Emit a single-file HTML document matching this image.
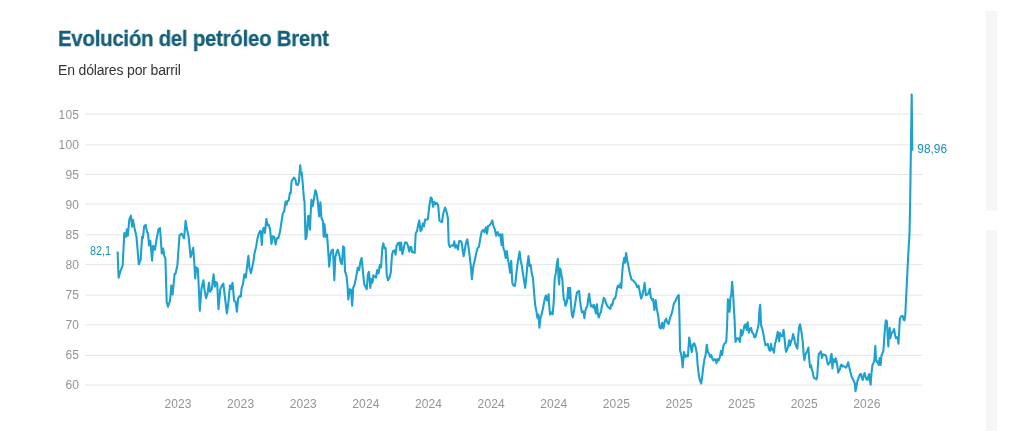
<!DOCTYPE html>
<html lang="es"><head><meta charset="utf-8"><title>Evolución del petróleo Brent</title>
<style>
html,body{margin:0;padding:0;background:#fff;}
body{width:1024px;height:431px;position:relative;overflow:hidden;font-family:"Liberation Sans",sans-serif;}
h1{position:absolute;left:57.5px;top:26.1px;margin:0;font-size:22px;line-height:26px;font-weight:bold;color:#15607a;white-space:nowrap;letter-spacing:-0.3px;transform-origin:0 0;transform:scaleX(0.93);-webkit-text-stroke:0.3px #15607a;}
p.sub{position:absolute;left:58.3px;top:61.2px;margin:0;font-size:14px;line-height:18px;color:#333;white-space:nowrap;letter-spacing:-0.16px;}
.strip{position:absolute;left:986.2px;width:10.4px;background:#f5f6f8;}
svg{position:absolute;left:0;top:0;will-change:transform;}
h1,p.sub{will-change:transform;}
.ax{font-family:"Liberation Sans",sans-serif;font-size:12px;fill:#949494;letter-spacing:0.12px;}
.val{font-family:"Liberation Sans",sans-serif;font-size:12px;fill:#1a8fb5;}
</style></head><body>
<h1>Evolución del petróleo Brent</h1>
<p class="sub">En dólares por barril</p>
<div class="strip" style="top:10.5px;height:200px"></div>
<div class="strip" style="top:230px;height:201px"></div>
<svg width="1024" height="431" viewBox="0 0 1024 431">
<g>
<line x1="85" x2="922.5" y1="114.00" y2="114.00" stroke="#e5e5e5" stroke-width="1"/>
<line x1="85" x2="922.5" y1="144.80" y2="144.80" stroke="#e5e5e5" stroke-width="1"/>
<line x1="85" x2="922.5" y1="174.50" y2="174.50" stroke="#e5e5e5" stroke-width="1"/>
<line x1="85" x2="922.5" y1="204.00" y2="204.00" stroke="#e5e5e5" stroke-width="1"/>
<line x1="85" x2="922.5" y1="234.80" y2="234.80" stroke="#e5e5e5" stroke-width="1"/>
<line x1="85" x2="922.5" y1="264.40" y2="264.40" stroke="#e5e5e5" stroke-width="1"/>
<line x1="85" x2="922.5" y1="295.20" y2="295.20" stroke="#e5e5e5" stroke-width="1"/>
<line x1="85" x2="922.5" y1="324.80" y2="324.80" stroke="#e5e5e5" stroke-width="1"/>
<line x1="85" x2="922.5" y1="355.30" y2="355.30" stroke="#e5e5e5" stroke-width="1"/>
<line x1="85" x2="922.5" y1="385.00" y2="385.00" stroke="#e5e5e5" stroke-width="1"/>
</g>
<text x="79" y="118.80" text-anchor="end" class="ax">105</text>
<text x="79" y="148.80" text-anchor="end" class="ax">100</text>
<text x="79" y="178.80" text-anchor="end" class="ax">95</text>
<text x="79" y="208.80" text-anchor="end" class="ax">90</text>
<text x="79" y="238.80" text-anchor="end" class="ax">85</text>
<text x="79" y="268.80" text-anchor="end" class="ax">80</text>
<text x="79" y="298.80" text-anchor="end" class="ax">75</text>
<text x="79" y="328.80" text-anchor="end" class="ax">70</text>
<text x="79" y="358.80" text-anchor="end" class="ax">65</text>
<text x="79" y="388.80" text-anchor="end" class="ax">60</text>

<text x="178.0" y="407.8" text-anchor="middle" class="ax">2023</text>
<text x="240.6" y="407.8" text-anchor="middle" class="ax">2023</text>
<text x="303.3" y="407.8" text-anchor="middle" class="ax">2023</text>
<text x="365.9" y="407.8" text-anchor="middle" class="ax">2024</text>
<text x="428.5" y="407.8" text-anchor="middle" class="ax">2024</text>
<text x="491.2" y="407.8" text-anchor="middle" class="ax">2024</text>
<text x="553.8" y="407.8" text-anchor="middle" class="ax">2024</text>
<text x="616.4" y="407.8" text-anchor="middle" class="ax">2025</text>
<text x="679.0" y="407.8" text-anchor="middle" class="ax">2025</text>
<text x="741.7" y="407.8" text-anchor="middle" class="ax">2025</text>
<text x="804.3" y="407.8" text-anchor="middle" class="ax">2025</text>
<text x="866.9" y="407.8" text-anchor="middle" class="ax">2026</text>

<path d="M117.6,251.5 L118.6,277.8 L120.2,272.0 L122.7,265.1 L124.3,233.1 L125.8,236.9 L126.8,229.3 L127.8,235.7 L129.4,219.1 L130.9,215.7 L132.2,226.7 L132.9,219.8 L134.5,228.0 L136.5,236.9 L138.8,264.3 L140.6,260.0 L142.1,236.9 L142.9,238.2 L144.2,226.0 L145.7,224.9 L147.0,231.8 L148.0,233.1 L149.0,245.4 L150.3,240.8 L152.1,260.7 L153.1,245.9 L154.9,249.7 L156.5,239.5 L158.5,229.3 L160.0,228.0 L161.8,253.6 L163.1,248.5 L164.4,256.1 L165.4,258.7 L166.7,302.1 L168.0,306.7 L170.0,300.8 L171.3,285.5 L172.6,294.5 L174.6,274.0 L175.6,273.5 L177.4,265.1 L179.5,235.2 L181.5,233.6 L184.1,238.2 L185.6,220.8 L187.0,229.1 L188.6,236.7 L190.6,257.2 L191.9,252.8 L193.2,247.7 L194.5,266.1 L195.2,278.4 L196.2,267.4 L197.8,268.7 L198.5,281.5 L199.8,310.8 L201.4,289.1 L203.4,280.2 L204.4,289.1 L206.0,298.1 L207.5,293.7 L209.0,282.7 L210.0,291.7 L211.8,289.1 L213.6,274.3 L214.9,286.6 L215.9,282.0 L217.2,283.5 L218.5,309.1 L220.3,289.1 L222.1,285.3 L223.3,283.5 L224.9,296.8 L226.9,313.4 L228.2,304.5 L230.0,285.3 L231.3,289.1 L232.5,282.7 L234.1,300.6 L235.6,301.9 L236.9,311.6 L238.2,298.1 L239.4,296.3 L240.7,296.8 L241.7,287.8 L243.0,284.0 L244.3,274.3 L245.8,277.6 L247.4,263.6 L248.4,255.9 L249.4,267.4 L250.9,273.3 L252.2,267.4 L253.5,261.0 L254.5,253.3 L256.1,246.9 L257.3,239.3 L258.6,234.2 L260.1,230.8 L260.8,231.7 L261.8,245.0 L262.6,231.7 L263.6,227.8 L264.9,233.0 L266.4,218.9 L267.5,225.3 L268.7,224.5 L270.0,229.1 L271.5,243.9 L272.6,236.3 L274.1,236.8 L275.6,244.5 L276.9,238.1 L278.4,238.1 L280.0,231.7 L281.5,222.0 L282.8,213.3 L284.1,211.7 L285.6,201.5 L286.6,204.8 L287.4,201.0 L288.7,200.5 L289.9,192.8 L290.7,193.3 L291.5,181.8 L292.8,179.3 L294.0,177.5 L295.3,179.3 L296.3,184.4 L297.9,184.9 L298.9,181.8 L300.2,165.2 L300.9,174.2 L301.7,172.4 L302.7,183.1 L304.0,199.7 L304.5,201.0 L305.5,239.3 L306.6,236.8 L308.1,216.3 L308.6,215.8 L309.9,229.6 L311.4,199.7 L312.7,206.1 L314.0,198.5 L315.3,190.3 L316.3,192.1 L317.8,201.0 L319.1,216.3 L320.4,202.3 L321.4,217.6 L322.9,221.5 L323.7,236.8 L324.5,224.0 L325.7,236.8 L327.0,234.7 L328.3,252.1 L329.2,266.7 L330.4,254.7 L331.7,250.4 L333.0,249.6 L334.3,280.3 L335.3,257.3 L336.6,252.2 L337.8,249.6 L339.4,255.5 L340.7,262.4 L341.9,264.2 L343.2,246.3 L344.2,247.8 L345.0,271.3 L346.5,275.9 L347.6,286.7 L348.3,299.5 L349.6,289.2 L350.9,289.7 L352.2,305.8 L353.2,288.0 L354.7,284.1 L356.0,277.7 L357.8,267.5 L359.1,270.1 L360.3,262.4 L361.6,258.1 L362.9,271.3 L364.2,284.1 L365.5,286.7 L366.7,289.2 L368.0,273.9 L369.0,271.9 L370.3,288.0 L371.3,279.0 L372.4,282.8 L373.4,275.2 L374.7,276.5 L375.9,277.7 L377.2,270.1 L378.5,273.4 L379.8,265.0 L381.0,267.5 L382.3,248.3 L383.3,243.2 L384.4,248.3 L385.6,247.8 L386.7,273.9 L387.9,280.3 L389.5,277.7 L390.8,272.6 L392.0,254.7 L393.1,250.9 L394.3,250.4 L395.6,254.7 L396.6,245.8 L397.9,243.2 L399.2,242.7 L400.1,250.3 L401.1,242.6 L402.4,254.1 L403.7,248.5 L404.9,242.6 L406.7,242.6 L408.0,245.9 L409.3,251.6 L410.3,247.0 L411.3,247.0 L412.1,252.1 L413.4,252.1 L414.7,252.8 L415.7,233.2 L417.0,231.1 L418.2,224.7 L419.3,220.4 L420.5,231.1 L421.6,229.8 L422.8,223.5 L423.9,226.5 L425.1,219.6 L426.7,219.6 L427.9,218.8 L429.2,206.8 L430.8,197.4 L431.8,198.4 L433.1,206.8 L434.3,201.7 L435.6,204.3 L436.9,203.0 L438.2,205.6 L439.5,220.9 L440.7,221.4 L442.0,222.2 L443.3,213.2 L445.1,207.6 L446.6,211.9 L447.9,218.3 L448.7,243.9 L449.9,247.0 L451.7,245.2 L453.3,245.9 L454.3,241.3 L455.3,247.7 L456.6,245.2 L457.9,249.5 L459.1,241.3 L460.4,240.8 L461.7,242.6 L462.7,250.3 L463.7,256.2 L465.0,248.5 L466.0,242.6 L467.3,239.3 L468.6,247.7 L469.6,255.4 L470.9,266.9 L471.9,279.2 L473.2,266.9 L474.5,261.3 L476.1,253.8 L477.5,248.2 L478.9,246.8 L480.3,238.5 L481.7,231.5 L483.1,230.1 L484.5,232.1 L485.9,227.3 L487.0,233.7 L488.1,225.9 L489.5,225.4 L490.9,223.7 L492.3,220.4 L493.4,225.9 L494.8,229.3 L496.2,235.7 L497.6,232.1 L499.0,235.7 L500.4,234.3 L501.5,244.9 L502.3,234.3 L503.4,248.2 L504.5,251.0 L505.7,258.0 L506.8,251.0 L507.9,259.4 L509.0,264.9 L510.1,272.7 L511.2,260.7 L512.3,283.0 L513.7,285.8 L515.1,285.8 L516.2,274.7 L517.4,264.9 L518.5,258.0 L519.6,251.6 L520.7,260.7 L521.8,265.5 L522.9,273.3 L524.0,280.2 L525.2,287.8 L526.3,277.5 L527.4,264.9 L528.5,256.0 L529.6,266.3 L530.7,264.9 L531.8,273.8 L533.0,278.3 L534.1,292.8 L535.2,305.3 L536.3,310.9 L537.4,317.8 L538.5,314.5 L539.4,327.6 L540.5,317.8 L541.6,314.5 L543.0,308.1 L544.4,300.6 L545.8,295.6 L547.2,300.6 L548.6,294.2 L549.2,305.3 L550.1,314.6 L551.5,312.3 L552.7,314.1 L553.8,300.7 L554.7,278.6 L555.9,272.4 L556.8,264.7 L557.8,258.9 L558.5,277.5 L559.2,284.4 L559.8,268.2 L560.5,269.4 L561.5,275.2 L562.4,279.8 L563.1,291.4 L563.8,299.5 L564.7,300.7 L565.4,305.8 L566.6,303.0 L567.5,297.2 L568.2,287.9 L569.1,298.4 L570.1,287.9 L571.0,304.2 L571.9,314.6 L572.8,317.4 L573.8,312.3 L574.7,306.5 L575.9,298.4 L577.0,292.6 L578.2,291.4 L579.1,290.9 L580.0,300.7 L581.0,307.6 L581.9,312.3 L582.8,311.1 L583.7,313.4 L584.4,318.1 L585.4,310.4 L586.3,307.6 L587.2,306.5 L588.2,299.5 L589.1,293.7 L590.0,300.7 L590.9,306.5 L592.1,305.3 L593.3,307.6 L594.2,304.9 L595.1,310.0 L596.0,313.4 L597.0,304.2 L597.9,314.6 L598.8,317.4 L600.0,313.4 L600.9,312.3 L601.8,306.5 L602.8,302.5 L603.7,297.9 L604.9,299.5 L606.0,303.0 L607.2,305.8 L608.3,307.2 L609.5,308.1 L610.4,308.8 L611.4,304.2 L612.3,305.3 L613.2,300.7 L614.1,298.8 L615.1,298.4 L616.0,294.9 L616.9,289.1 L617.9,285.6 L618.8,286.8 L619.7,287.2 L620.6,283.3 L621.3,287.9 L622.0,275.2 L623.0,264.7 L624.2,257.9 L625.1,262.7 L626.1,253.0 L627.1,259.5 L628.4,266.0 L630.0,274.1 L631.6,279.6 L633.3,280.6 L634.6,282.2 L635.9,283.9 L637.2,287.1 L638.5,285.5 L639.8,292.0 L641.1,298.5 L642.4,295.2 L643.7,288.7 L644.6,282.9 L645.9,295.2 L647.2,294.6 L648.5,293.6 L649.8,288.7 L650.8,296.9 L652.1,300.1 L653.1,299.1 L654.4,309.9 L655.7,300.1 L657.0,309.9 L658.3,316.3 L659.6,327.7 L660.9,328.4 L662.2,322.8 L663.5,328.4 L664.8,321.2 L666.1,318.6 L667.4,322.8 L668.7,323.8 L670.0,318.0 L671.3,314.7 L672.6,309.9 L673.9,303.4 L675.2,301.7 L676.5,298.5 L677.8,295.9 L678.8,295.2 L679.4,314.7 L680.1,350.5 L681.4,355.3 L682.7,367.4 L684.0,352.1 L685.3,357.0 L686.6,355.3 L687.9,356.3 L689.2,337.5 L690.4,344.0 L691.7,352.1 L693.0,344.6 L694.3,343.3 L695.6,347.2 L696.9,353.7 L697.6,364.7 L698.7,374.5 L699.8,380.0 L701.2,383.6 L702.3,375.8 L703.4,366.1 L704.5,359.1 L705.6,355.0 L706.8,344.7 L707.9,352.2 L709.0,353.6 L710.1,356.9 L711.2,355.0 L712.3,358.6 L713.4,360.5 L714.6,359.1 L715.7,359.7 L716.5,363.3 L717.6,359.1 L718.7,360.5 L719.9,356.9 L721.0,350.8 L722.1,355.0 L723.2,346.6 L724.3,343.8 L725.4,343.0 L726.3,341.0 L727.1,325.7 L727.9,299.2 L728.8,302.0 L729.6,311.8 L730.4,297.9 L731.3,294.5 L732.1,281.7 L732.9,290.9 L733.8,306.2 L734.6,320.1 L735.5,341.9 L736.6,338.2 L737.7,339.1 L738.8,338.2 L739.9,341.9 L741.0,329.9 L742.1,335.5 L743.3,331.3 L744.4,325.7 L745.5,324.3 L746.6,329.9 L747.7,322.4 L748.8,332.7 L749.9,329.1 L751.1,327.9 L752.2,332.7 L753.3,333.5 L754.4,337.4 L755.5,336.9 L756.6,332.7 L757.7,328.5 L758.6,324.3 L759.4,310.4 L760.2,304.8 L761.1,325.7 L762.2,328.5 L763.3,333.5 L764.4,340.2 L765.5,345.2 L766.7,344.7 L767.8,343.8 L768.9,349.4 L770.0,350.8 L771.1,343.8 L771.8,349.7 L772.9,348.6 L773.9,352.8 L775.0,343.4 L775.8,341.3 L776.9,336.1 L777.7,331.9 L778.5,337.1 L779.2,341.3 L780.0,333.0 L780.8,336.1 L781.9,335.1 L782.7,336.1 L783.5,329.8 L784.4,337.1 L785.2,345.5 L786.0,351.8 L787.1,349.7 L788.1,346.5 L789.2,340.3 L790.0,345.5 L791.1,341.3 L792.1,339.2 L793.1,334.0 L794.2,338.2 L795.2,343.4 L796.3,346.5 L797.3,348.6 L798.2,337.1 L799.0,327.7 L800.0,324.2 L801.1,329.8 L801.9,335.1 L802.8,342.4 L803.6,353.9 L804.4,360.1 L805.3,354.9 L806.3,352.8 L807.3,350.7 L808.4,347.6 L809.2,359.1 L810.1,367.4 L811.1,365.3 L811.9,369.5 L812.8,372.6 L813.8,377.9 L815.1,378.5 L816.3,379.3 L817.2,376.8 L818.0,364.3 L818.8,353.9 L819.9,352.8 L820.9,351.3 L822.0,358.0 L823.0,354.3 L824.0,354.9 L825.1,354.9 L826.1,355.9 L827.2,361.2 L828.0,364.7 L829.1,363.2 L830.1,362.2 L830.9,355.9 L831.6,353.9 L832.4,368.5 L833.2,359.1 L834.1,360.1 L834.9,362.2 L835.7,358.4 L836.6,361.2 L837.4,366.4 L838.2,372.6 L839.1,370.6 L839.9,369.5 L840.8,365.3 L841.6,364.7 L842.6,366.4 L843.7,366.0 L844.7,366.8 L845.8,367.7 L847.0,366.1 L848.1,362.2 L849.3,367.3 L850.4,371.9 L851.6,376.6 L852.8,378.9 L853.9,381.2 L854.8,383.5 L855.5,391.2 L856.5,386.3 L857.4,381.2 L858.6,377.7 L859.7,374.7 L860.9,373.8 L861.8,377.7 L862.7,380.0 L863.7,375.4 L864.6,373.1 L865.5,376.6 L866.5,379.4 L867.4,380.0 L868.3,376.6 L869.2,374.2 L869.9,380.0 L870.6,384.7 L871.6,371.9 L872.5,365.0 L873.4,363.1 L874.3,360.8 L875.3,345.9 L876.0,359.2 L876.9,362.2 L877.8,361.5 L878.7,365.0 L879.7,358.0 L880.6,365.0 L881.5,355.7 L882.5,352.9 L883.4,351.0 L884.3,337.1 L885.2,325.5 L885.9,320.4 L886.9,321.3 L887.6,334.8 L888.3,346.4 L889.0,334.8 L889.7,327.8 L890.3,338.3 L891.3,333.6 L892.2,332.5 L893.1,331.3 L894.1,329.0 L895.0,334.8 L895.9,338.3 L896.8,337.1 L897.8,338.3 L898.5,343.6 L899.2,330.2 L899.9,318.6 L900.8,316.7 L901.7,316.2 L902.6,315.8 L903.6,319.7 L904.5,320.4 L905.2,316.2 L908.2,255.7 L909.5,233.4 L910.1,205.0 L911.7,94.5 L912.3,150.8" fill="none" stroke="#1ea1cd" stroke-width="2.1" stroke-linejoin="round" stroke-linecap="butt"/>
<text x="111" y="255" text-anchor="end" class="val" textLength="21" lengthAdjust="spacingAndGlyphs">82,1</text>
<text x="917.3" y="153" class="val" textLength="29.8" lengthAdjust="spacingAndGlyphs">98,96</text>
</svg>
</body></html>
